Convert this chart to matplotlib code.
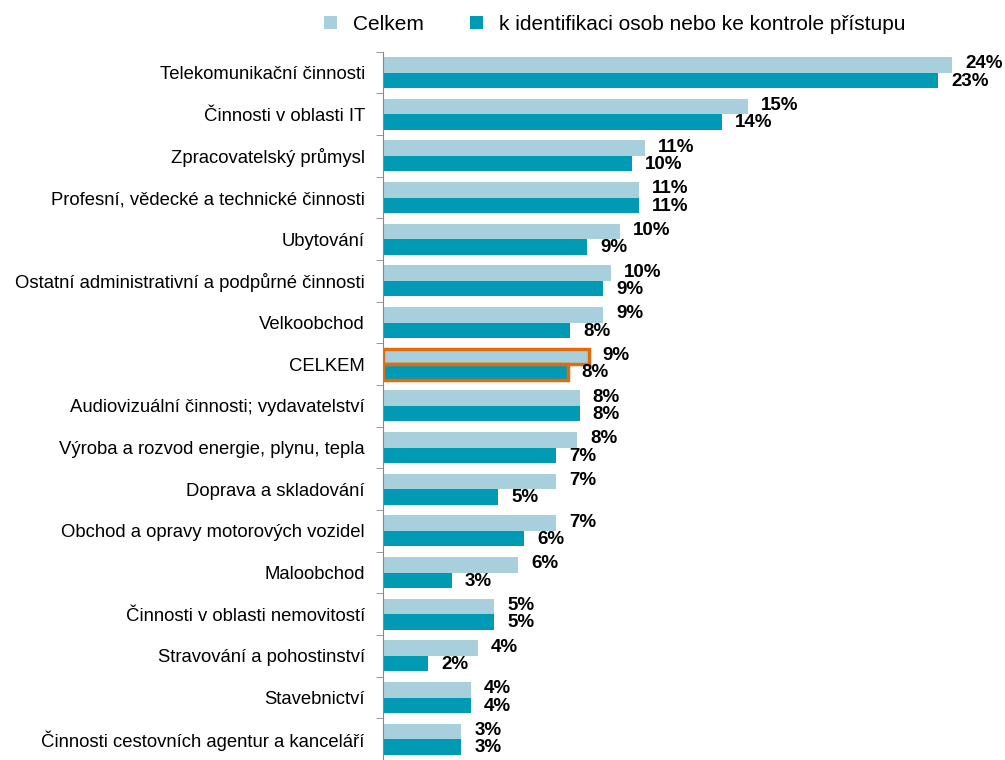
import matplotlib.pyplot as plt
import numpy as np

plt.rcParams['font.family'] = ['Liberation Sans', 'DejaVu Sans']

categories = [
    "Telekomunikační činnosti",
    "Činnosti v oblasti IT",
    "Zpracovatelský průmysl",
    "Profesní, vědecké a technické činnosti",
    "Ubytování",
    "Ostatní administrativní a podpůrné činnosti",
    "Velkoobchod",
    "CELKEM",
    "Audiovizuální činnosti; vydavatelství",
    "Výroba a rozvod energie, plynu, tepla",
    "Doprava a skladování",
    "Obchod a opravy motorových vozidel",
    "Maloobchod",
    "Činnosti v oblasti nemovitostí",
    "Stravování a pohostinství",
    "Stavebnictví",
    "Činnosti cestovních agentur a kanceláří",
]
celkem = [24.0, 15.4, 11.05, 10.8, 10.0, 9.6, 9.3, 8.7, 8.3, 8.2, 7.3, 7.3, 5.7, 4.7, 4.0, 3.7, 3.3]
identif = [23.4, 14.3, 10.5, 10.8, 8.6, 9.3, 7.9, 7.8, 8.3, 7.3, 4.85, 5.95, 2.9, 4.7, 1.9, 3.7, 3.3]
celkem_lbl = ["24%", "15%", "11%", "11%", "10%", "10%", "9%", "9%", "8%", "8%", "7%", "7%", "6%", "5%", "4%", "4%", "3%"]
identif_lbl = ["23%", "14%", "10%", "11%", "9%", "9%", "8%", "8%", "8%", "7%", "5%", "6%", "3%", "5%", "2%", "4%", "3%"]

light = "#A8D0DC"
dark = "#009AB5"
orange = "#E36C0A"

fig = plt.figure(figsize=(10.05, 7.6), dpi=100)
ax = fig.add_axes([0.381, 0.0, 0.59, 0.932])

n = len(categories)
y = np.arange(n)
h = 0.37

b1 = ax.barh(y - h / 2, celkem, height=h, color=light, label="Celkem")
b2 = ax.barh(y + h / 2, identif, height=h, color=dark,
             label="k identifikaci osob nebo ke kontrole přístupu")

# highlight CELKEM row
i = categories.index("CELKEM")
for b in (b1[i], b2[i]):
    b.set_edgecolor(orange)
    b.set_linewidth(2.5)

for k in range(n):
    ax.text(celkem[k] + 0.55, y[k] - h / 2 - 0.02, celkem_lbl[k], va="center", ha="left",
            fontsize=13.5, fontweight="bold")
    ax.text(identif[k] + 0.55, y[k] + h / 2 + 0.02, identif_lbl[k], va="center", ha="left",
            fontsize=13.5, fontweight="bold")

ax.set_ylim(n - 0.5, -0.5)
ax.set_xlim(0, 25)
ax.set_yticks(y)
ax.set_yticklabels(categories, fontsize=13.3)
ax.tick_params(axis="y", length=0, pad=13)
ax.set_yticks(np.arange(n + 1) - 0.5, minor=True)
ax.tick_params(axis="y", which="minor", length=5, color="#888888")
ax.set_xticks([])
for s in ("top", "right", "bottom"):
    ax.spines[s].set_visible(False)
ax.spines["left"].set_color("#888888")

fig.legend(handles=[b1, b2], loc="upper center", bbox_to_anchor=(0.612, 1.005), ncol=2,
           frameon=False, fontsize=15, handlelength=0.6, handleheight=0.6,
           columnspacing=2.2, handletextpad=0.8)

fig.savefig("out.png", dpi=100)
